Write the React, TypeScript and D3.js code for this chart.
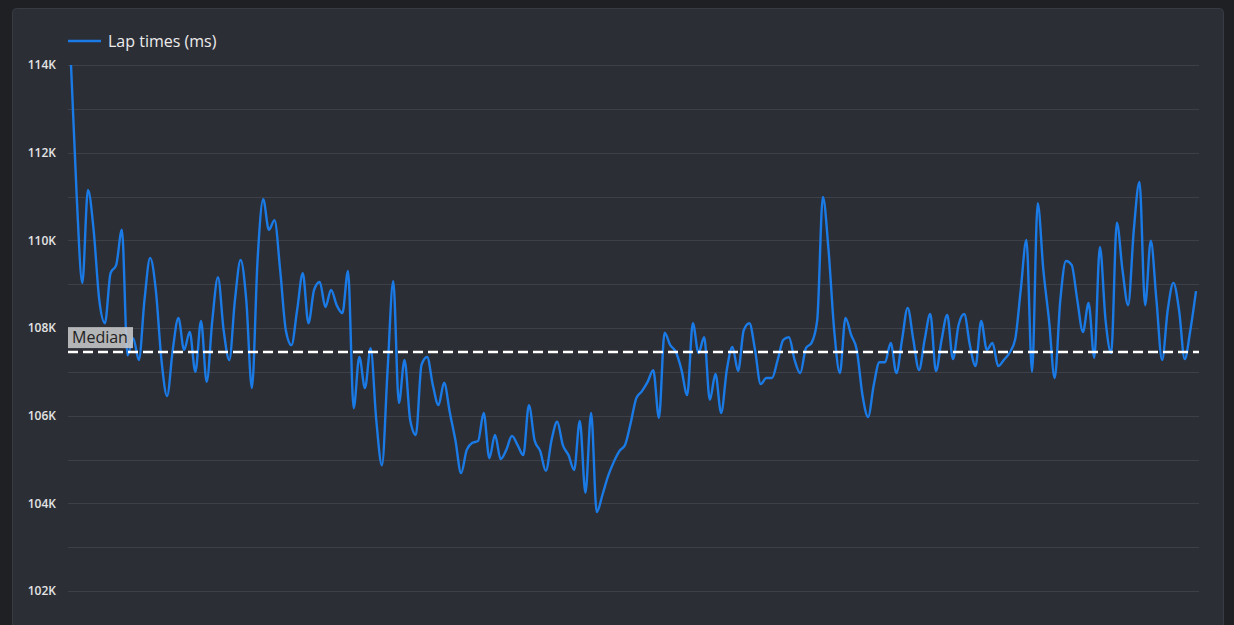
import { useEffect, useRef } from "react";
import * as d3 from "d3";

// lap times in ms, one value per lap
const lapTimes: number[] = [
  114000, 111030, 109030, 111150, 110240, 108640, 108110, 109250, 109440, 110240,
  107380, 107770, 107270, 108640, 109600, 108870, 107270, 106450, 107500, 108230,
  107500, 107910, 107000, 108160, 106770, 108180, 109160, 107950, 107270, 108640,
  109550, 108640, 106630, 109550, 110940, 110240, 110460, 109320, 107950, 107610,
  108410, 109250, 108110, 108870, 109050, 108480, 108870, 108520, 108340, 109300,
  106170, 107340, 106630, 107540, 105900, 104870, 107040, 109070, 106290, 107270,
  105900, 105560, 107160, 107340, 106700, 106240, 106750, 106080, 105440, 104690,
  105220, 105380, 105420, 106060, 105030, 105560, 105010, 105220, 105540, 105330,
  105100, 106240, 105440, 105190, 104740, 105440, 105860, 105330, 105100, 104760,
  105880, 104240, 106060, 103800, 104190, 104620, 104940, 105190, 105330, 105830,
  106400, 106560, 106770, 107040, 105950, 107890, 107610, 107450, 107040, 106470,
  108110, 107430, 107790, 106360, 106950, 106060, 107040, 107570, 107020, 107950,
  108110, 107500, 106720, 106860, 106860, 107270, 107730, 107790, 107270, 106970,
  107540, 107660, 108180, 110990, 109780, 107950, 106970, 108230, 107840, 107500,
  106470, 105970, 106700, 107220, 107220, 107660, 106970, 107730, 108460, 107730,
  107040, 107730, 108320, 107020, 107730, 108300, 107290, 108070, 108320, 107610,
  107130, 108160, 107500, 107660, 107130, 107270, 107430, 107730, 108870, 110010,
  107000, 110850, 109320, 108180, 106860, 108640, 109530, 109440, 108640, 107910,
  108570, 107320, 109850, 108180, 107430, 110400, 109320, 108520, 110240, 111330,
  108520, 109990, 108640, 107270, 108410, 109030, 108410, 107290, 107950, 108840,
];

const medianLap = 107450;
const yTicks: number[] = [102000, 104000, 106000, 108000, 110000, 112000, 114000];
const seriesName = "Lap times (ms)";
const medianLabel = "Median";

const WIDTH = 1234;
const HEIGHT = 625;

export default function App() {
  const svgRef = useRef<SVGSVGElement>(null);

  useEffect(() => {
    if (!svgRef.current) return;
    const svg = d3.select(svgRef.current);
    svg.selectAll("*").remove();

    const left = 68;
    const right = 1199;
    const font = "'Open Sans', 'Noto Sans', sans-serif";

    // page + panel
    svg.append("rect").attr("width", WIDTH).attr("height", HEIGHT).attr("fill", "#1f2023");
    svg
      .append("rect")
      .attr("x", 12.5)
      .attr("y", 8.5)
      .attr("width", 1211)
      .attr("height", 640)
      .attr("rx", 4)
      .attr("fill", "#2c2e36")
      .attr("stroke", "#383b44");

    const x = d3
      .scaleLinear()
      .domain([0, lapTimes.length - 1])
      .range([71, 1196]);

    const y = d3.scaleLinear().domain([102000, 114000]).range([591, 65]);

    // grid lines every 1K
    svg
      .append("g")
      .selectAll("line")
      .data(d3.range(102000, 114001, 1000))
      .enter()
      .append("line")
      .attr("x1", left)
      .attr("x2", right)
      .attr("y1", (d) => Math.round(y(d)) + 0.5)
      .attr("y2", (d) => Math.round(y(d)) + 0.5)
      .attr("stroke", "#3d4049")
      .attr("stroke-width", 1);

    // y labels
    svg
      .append("g")
      .selectAll("text")
      .data(yTicks)
      .enter()
      .append("text")
      .attr("x", 56)
      .attr("y", (d) => y(d))
      .attr("dy", "0.35em")
      .attr("text-anchor", "end")
      .attr("font-family", font)
      .attr("font-size", 12)
      .attr("font-weight", 600)
      .attr("fill", "#e4e4e4")
      .text((d) => `${d / 1000}K`);

    // lap time line
    const line = d3
      .line<number>()
      .x((_, i) => x(i))
      .y((d) => y(d))
      .curve(d3.curveMonotoneX);

    svg
      .append("path")
      .datum(lapTimes)
      .attr("fill", "none")
      .attr("stroke", "#1a7ae6")
      .attr("stroke-width", 2.4)
      .attr("stroke-linejoin", "round")
      .attr("d", line);

    // median annotation
    const my = y(medianLap);
    svg
      .append("line")
      .attr("x1", left)
      .attr("x2", right)
      .attr("y1", my)
      .attr("y2", my)
      .attr("stroke", "#ffffff")
      .attr("stroke-width", 2.5)
      .attr("stroke-dasharray", "10 5");

    svg
      .append("rect")
      .attr("x", 68)
      .attr("y", my - 25)
      .attr("width", 65)
      .attr("height", 21)
      .attr("fill", "rgba(205,205,205,0.85)");

    svg
      .append("text")
      .attr("x", 72)
      .attr("y", my - 14.5)
      .attr("dy", "0.35em")
      .attr("font-family", font)
      .attr("font-size", 16)
      .attr("fill", "#222222")
      .text(medianLabel);

    // legend
    svg
      .append("line")
      .attr("x1", 68)
      .attr("x2", 101)
      .attr("y1", 41)
      .attr("y2", 41)
      .attr("stroke", "#1a7ae6")
      .attr("stroke-width", 2.5);

    svg
      .append("text")
      .attr("x", 108)
      .attr("y", 41)
      .attr("dy", "0.35em")
      .attr("font-family", font)
      .attr("font-size", 16)
      .attr("font-weight", 500)
      .attr("fill", "#ececec")
      .text(seriesName);
  }, []);

  return (
    <>
      <style>{`body{margin:0;background:#1f2023;}`}</style>
      <svg ref={svgRef} width={WIDTH} height={HEIGHT} style={{ display: "block" }}></svg>
    </>
  );
}
